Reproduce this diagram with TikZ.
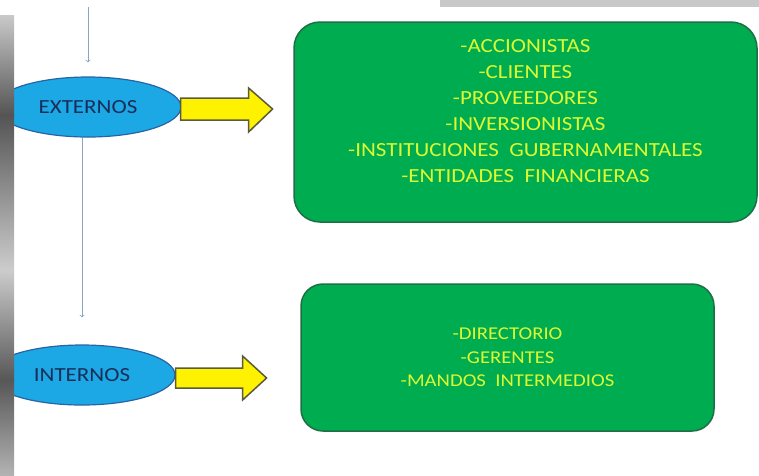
\documentclass[tikz,border=0pt]{standalone}
\usepackage{fontspec}
\setmainfont{Carlito}[FakeStretch=1.15]
\usetikzlibrary{shapes}
\usetikzlibrary{arrows}
\definecolor{skyfill}{RGB}{28,168,228}
\definecolor{skyline}{RGB}{40,100,165}
\definecolor{navytext}{RGB}{25,45,90}
\definecolor{boxgreen}{RGB}{0,172,80}
\definecolor{boxline}{RGB}{30,110,70}
\definecolor{limetext}{RGB}{220,250,50}
\definecolor{arrowline}{RGB}{90,90,60}
\definecolor{flowline}{RGB}{140,165,195}
\definecolor{barfill}{RGB}{200,200,200}
\tikzset{
  oval/.style={ellipse, draw=skyline, fill=skyfill, line width=1.2pt, minimum width=186pt, minimum height=60pt, text=navytext, font=\fontsize{20}{24}\selectfont},
  greenbox/.style={rectangle, rounded corners=26pt, draw=boxline, fill=boxgreen, line width=1.5pt},
  listtext/.style={text=limetext, align=center},
  yarrow/.style={draw=arrowline, fill=yellow, line width=1.5pt, line join=miter},
  flow/.style={->, draw=flowline, line width=0.8pt}
}

\begin{document}
\begin{tikzpicture}[x=1pt,y=-1pt]
\useasboundingbox (0,0) rectangle (759,475);
\fill[barfill] (440,0) rectangle (759,7);
% the two groups
\node[oval] (ext) at (88,107) {EXTERNOS};
\node[oval] (int) at (82,375) {INTERNOS};
\coordinate (start) at (88,7);
\draw[flow] (start) -- ([yshift=14pt]ext.north);
\draw[flow] (ext.south -| int.north) -- ([yshift=27pt]int.north);
% block arrows
\draw[yarrow] ([shift={(-1,-9)}]ext.east) -- ++(68,0) -- ++(0,-10) -- ++(24,21) -- ++(-24,23) -- ++(0,-12) -- ++(-68,0) -- cycle;
\draw[yarrow] ([shift={(0,-7)}]int.east) -- ++(67,0) -- ++(0,-12) -- ++(24,22) -- ++(-24,22) -- ++(0,-12) -- ++(-67,0) -- cycle;
% lists
\node[greenbox, minimum width=463pt, minimum height=200pt] (extbox) at (525.5,122) {};
\node[listtext, font=\fontsize{20}{26}\selectfont] (extlist) at ([yshift=11pt]extbox.center) {-ACCIONISTAS\\-CLIENTES\\-PROVEEDORES\\-INVERSIONISTAS\\-INSTITUCIONES\ \ GUBERNAMENTALES\\-ENTIDADES\ \ FINANCIERAS};
\node[greenbox, rounded corners=22pt, minimum width=413pt, minimum height=147pt, listtext, font=\fontsize{18}{23.5}\selectfont] (intbox) at (507.5,357.5) {-DIRECTORIO\\-GERENTES\\-MANDOS\ \ INTERMEDIOS};
% side strip
\shade[top color=black!21, bottom color=black!67] (0,15) rectangle (14,115);
\shade[top color=black!67, bottom color=black!20] (0,115) rectangle (14,270);
\shade[top color=black!20, bottom color=black!66] (0,270) rectangle (14,380);
\shade[top color=black!66, bottom color=black!30] (0,380) rectangle (14,475);
\end{tikzpicture}
\end{document}
